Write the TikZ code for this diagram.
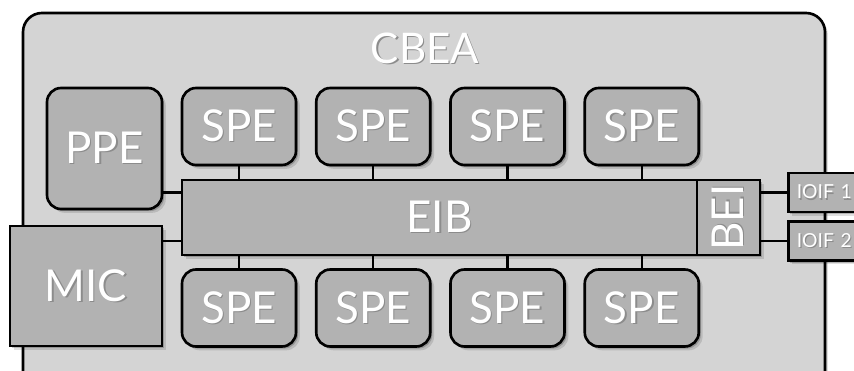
\documentclass[tikz,border=0pt]{standalone}
\usepackage{fontspec}
\setmainfont{Lato}
\usetikzlibrary{shadows}

\newcommand{\shtxt}[1]{\makebox[0pt][l]{\kern0.7pt\raisebox{-0.7pt}{\textcolor{black!45}{#1}}}#1}

\begin{document}
\begin{tikzpicture}[
		unit/.style={draw,line width=1.5pt,fill=black!30,text=white,inner sep=0pt,
			font=\fontsize{25}{30}\selectfont,
			drop shadow={shadow xshift=1.2pt,shadow yshift=-1.2pt,fill=black,opacity=0.2},
			drop shadow={shadow xshift=2.2pt,shadow yshift=-2.2pt,fill=black,opacity=0.12}},
		core/.style={unit,rounded corners=8pt},
		spe/.style={core,minimum width=2.28cm,minimum height=1.54cm},
		io/.style={unit,anchor=west,font=\fontsize{11}{13}\selectfont,align=left,
			text width=1.6cm,inner xsep=0.17cm,minimum height=0.78cm},
		link/.style={line width=1.4pt}]
	\useasboundingbox (0,0) rectangle (17.08,7.42);
	\draw [line width=1.5pt,fill=black!17,rounded corners=0.38cm,
		drop shadow={shadow xshift=1.5pt,shadow yshift=-1.5pt,fill=black,opacity=0.2}]
		(0.46,-0.4) rectangle (16.5,7.16);
	\node at (8.5,6.44) [text=white,font=\fontsize{24}{28}\selectfont] (cbea) {\shtxt{CBEA}};

	\node at (2.09,4.45) [core,minimum width=2.3cm,minimum height=2.42cm] (ppe) {\shtxt{PPE}};
	\node at (1.72,1.70) [unit,minimum width=3.04cm,minimum height=2.4cm] (mic) {\shtxt{MIC}};
	\node at (8.79,3.07) [unit,minimum width=10.3cm,minimum height=1.5cm] (eib) {\shtxt{EIB}};
	\node at (14.57,3.07) [unit,minimum width=1.5cm,minimum height=1.26cm,rotate=90] (bei) {\shtxt{BEI}};
	\node at (15.74,3.57) [io] (ioif1) {\shtxt{IOIF 1}};
	\node at (15.74,2.60) [io] (ioif2) {\shtxt{IOIF 2}};

	\foreach \i/\x in {1/4.78,2/7.465,3/10.15,4/12.835}
	{
		\node at (\x,4.89) [spe] (spet\i) {\shtxt{SPE}};
		\node at (\x,1.26) [spe] (speb\i) {\shtxt{SPE}};
		\draw [link] (spet\i.south) -- (spet\i.south |- eib.north);
		\draw [link] (speb\i.north) -- (speb\i.north |- eib.south);
	}

	\draw [link] (ppe.east |- ioif1) -- (eib.west |- ioif1);
	\draw [link] (mic.east |- ioif2) -- (eib.west |- ioif2);
	\draw [link] (bei.south |- ioif1) -- (ioif1.west);
	\draw [link] (bei.south |- ioif2) -- (ioif2.west);
\end{tikzpicture}
\end{document}
